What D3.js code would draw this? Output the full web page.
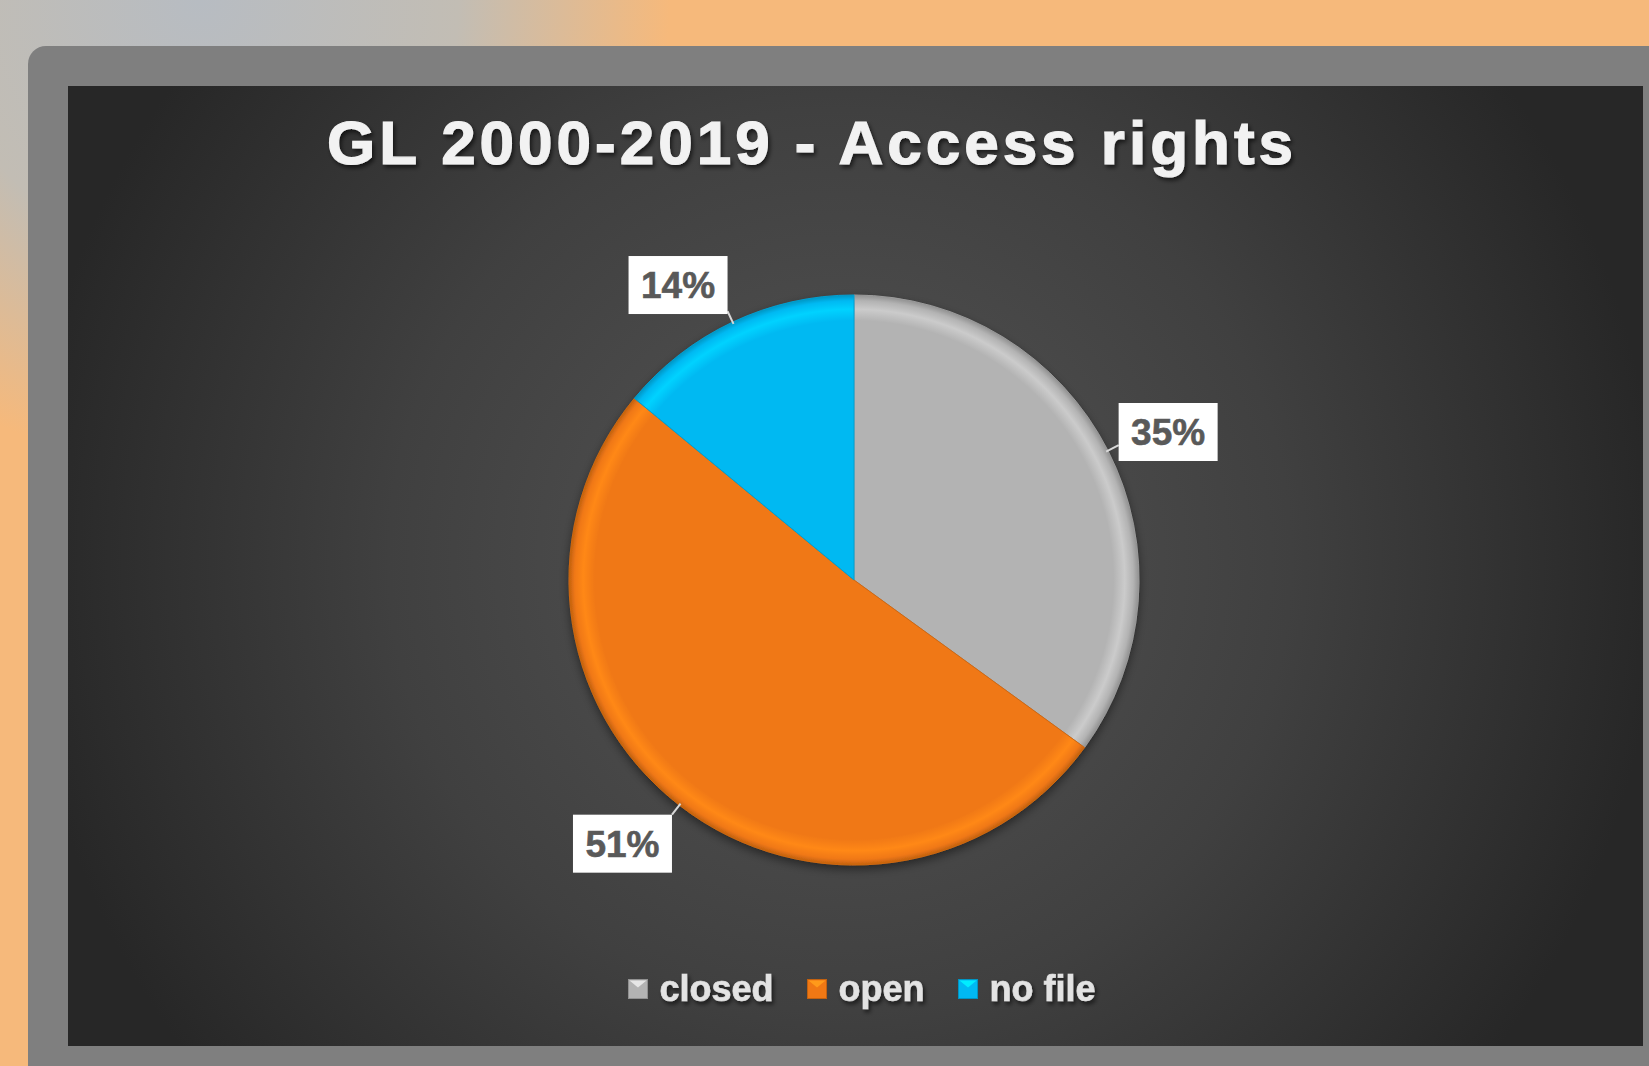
<!DOCTYPE html>
<html>
<head>
<meta charset="utf-8">
<script src="https://cdn.jsdelivr.net/npm/d3@7"></script>
<style>
  body { margin: 0; background: #f5b97c; }
  svg { display: block; }
</style>
</head>
<body>
<div id="chart"></div>
<script>
// data
const categories = ["closed", "open", "no file"];
const shares = [35, 51, 14];
const sliceColors = ["#b3b3b3", "#f07814", "#00b9f2"];
const titleText = "GL 2000-2019 - Access rights";

const W = 1649, H = 1066;
const panel = {x: 68, y: 86, w: 1575, h: 960};

const svg = d3.select("#chart").append("svg")
    .attr("width", W)
    .attr("height", H);

const defs = svg.append("defs");

// page background
let bg = defs.append("radialGradient").attr("id", "pageBg")
    .attr("gradientUnits", "userSpaceOnUse")
    .attr("cx", 200).attr("cy", 0).attr("r", 470);
bg.append("stop").attr("offset", "0%").attr("stop-color", "#b7bcc2");
bg.append("stop").attr("offset", "55%").attr("stop-color", "#c2bdb4");
bg.append("stop").attr("offset", "100%").attr("stop-color", "#f6b97b");

let pg = defs.append("radialGradient").attr("id", "panelBg")
    .attr("gradientUnits", "userSpaceOnUse")
    .attr("cx", 840).attr("cy", 560).attr("r", 820);
pg.append("stop").attr("offset", "0%").attr("stop-color", "#555555");
pg.append("stop").attr("offset", "55%").attr("stop-color", "#404040");
pg.append("stop").attr("offset", "100%").attr("stop-color", "#272727");

// soft shadows
let sh = defs.append("filter").attr("id", "shadow")
    .attr("x", "-20%").attr("y", "-20%").attr("width", "140%").attr("height", "140%");
sh.append("feDropShadow").attr("dx", 0).attr("dy", 4).attr("stdDeviation", 5)
    .attr("flood-color", "#000").attr("flood-opacity", 0.45);

let tsh = defs.append("filter").attr("id", "textShadow")
    .attr("x", "-10%").attr("y", "-30%").attr("width", "120%").attr("height", "160%");
tsh.append("feDropShadow").attr("dx", 2).attr("dy", 3).attr("stdDeviation", 2)
    .attr("flood-color", "#000").attr("flood-opacity", 0.6);

svg.append("rect").attr("width", W).attr("height", H).attr("fill", "url(#pageBg)");

// frame + dark panel
svg.append("rect")
    .attr("x", 28).attr("y", 46)
    .attr("width", W).attr("height", H)
    .attr("rx", 18)
    .attr("fill", "#7f7f7f");

svg.append("rect")
    .attr("x", panel.x).attr("y", panel.y)
    .attr("width", panel.w).attr("height", panel.h)
    .attr("fill", "url(#panelBg)");

// title
svg.append("text")
    .attr("x", 812)
    .attr("y", 164)
    .attr("text-anchor", "middle")
    .attr("font-family", "Liberation Sans, Arial, sans-serif")
    .attr("font-weight", "bold")
    .attr("font-size", 62)
    .attr("letter-spacing", 4)
    .attr("fill", "#f2f2f2")
    .attr("stroke", "#f2f2f2")
    .attr("stroke-width", 1.2)
    .attr("filter", "url(#textShadow)")
    .text(titleText);

// pie
const cx = 854, cy = 580, radius = 285;
const color = d3.scaleOrdinal().domain(categories).range(sliceColors);

// bevel-ish radial gradient per slice
categories.forEach((c, i) => {
    let base = d3.color(sliceColors[i]);
    let g = defs.append("radialGradient").attr("id", "slice" + i)
        .attr("gradientUnits", "userSpaceOnUse")
        .attr("cx", 0).attr("cy", 0).attr("r", radius);
    g.append("stop").attr("offset", "0%").attr("stop-color", base);
    g.append("stop").attr("offset", "91%").attr("stop-color", base);
    g.append("stop").attr("offset", "95%").attr("stop-color", base.brighter(0.35));
    g.append("stop").attr("offset", "98%").attr("stop-color", base);
    g.append("stop").attr("offset", "100%").attr("stop-color", base.darker(0.6));
});

const pie = d3.pie().sort(null).value(d => d.value);
const arcs = pie(categories.map((c, i) => ({name: c, value: shares[i], idx: i})));

const arc = d3.arc().innerRadius(0).outerRadius(radius);
const anchorArc = d3.arc().innerRadius(radius + 12).outerRadius(radius + 12);
const edgeArc = d3.arc().innerRadius(radius - 2).outerRadius(radius - 2);

const pieG = svg.append("g")
    .attr("transform", `translate(${cx},${cy})`);

pieG.append("g").attr("filter", "url(#shadow)")
    .selectAll("path")
    .data(arcs)
    .enter().append("path")
    .attr("d", arc)
    .attr("fill", d => `url(#slice${d.data.idx})`)
    .attr("stroke", d => d3.color(color(d.data.name)).darker(0.4))
    .attr("stroke-width", 1);

// data labels
const boxW = 99, boxH = 58;
const labels = pieG.append("g");

arcs.forEach(d => {
    let a = anchorArc.centroid(d);
    let e = edgeArc.centroid(d);
    let len = Math.hypot(a[0], a[1]);
    let ux = a[0] / len, uy = a[1] / len;
    let bx = ux > 0 ? a[0] : a[0] - boxW;
    let fy = uy > 0.5 ? 0 : 0.5 - 0.5 * uy;
    let by = a[1] - boxH * fy;

    // leader line from box to slice edge
    let lx = Math.max(bx, Math.min(bx + boxW, a[0]));
    let ly = Math.max(by, Math.min(by + boxH, a[1]));
    labels.append("line")
        .attr("x1", lx).attr("y1", ly)
        .attr("x2", e[0]).attr("y2", e[1])
        .attr("stroke", "#d9d9d9")
        .attr("stroke-width", 2);

    labels.append("rect")
        .attr("x", bx).attr("y", by)
        .attr("width", boxW).attr("height", boxH)
        .attr("fill", "#ffffff");

    labels.append("text")
        .attr("x", bx + boxW / 2)
        .attr("y", by + boxH / 2 + 13)
        .attr("text-anchor", "middle")
        .attr("font-family", "Liberation Sans, Arial, sans-serif")
        .attr("font-weight", "bold")
        .attr("font-size", 37)
        .attr("fill", "#595959")
        .attr("stroke", "#595959")
        .attr("stroke-width", 0.6)
        .text(d.data.value + "%");
});

// legend
const legend = svg.append("g");
const mark = 19, gapText = 12, gapItem = 34;
let xPos = 0;
categories.forEach((c, i) => {
    let item = legend.append("g").attr("transform", `translate(${xPos},0)`);
    item.append("rect")
        .attr("x", 0).attr("y", -mark / 2)
        .attr("width", mark).attr("height", mark)
        .attr("fill", color(c))
        .attr("stroke", d3.color(color(c)).darker(0.6))
        .attr("stroke-width", 1);
    item.append("path")
        .attr("d", `M1,${-mark / 2 + 1}L${mark / 2},${-mark / 2 + 8}L${mark - 1},${-mark / 2 + 1}Z`)
        .attr("fill", d3.color(color(c)).brighter(0.7));
    let t = item.append("text")
        .attr("x", mark + gapText)
        .attr("y", 12)
        .attr("font-family", "Liberation Sans, Arial, sans-serif")
        .attr("font-weight", "bold")
        .attr("font-size", 36)
        .attr("fill", "#e3e3e3")
        .attr("stroke", "#e3e3e3")
        .attr("stroke-width", 0.6)
        .attr("filter", "url(#textShadow)")
        .text(c);
    xPos += mark + gapText + t.node().getComputedTextLength() + gapItem;
});
const legendW = xPos - gapItem;
legend.attr("transform", `translate(${862 - legendW / 2},989)`);
</script>
</body>
</html>
